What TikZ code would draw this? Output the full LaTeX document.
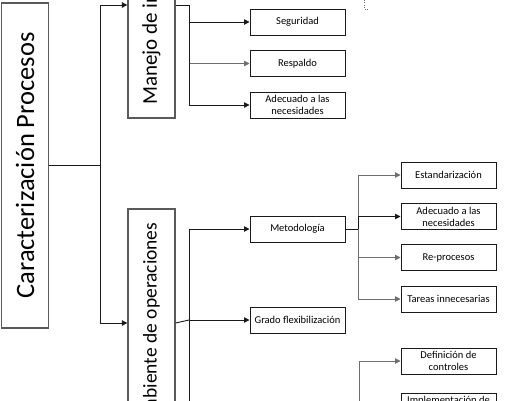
\documentclass[tikz,border=0pt]{standalone}
\usepackage{fontspec}
\setmainfont{Carlito}
\usepackage{tikz}
\usetikzlibrary{arrows.meta,positioning}
\definecolor{edge}{HTML}{1A1A1A}
\definecolor{greyln}{HTML}{6E6E6E}
\definecolor{bigframe}{HTML}{5A5A5A}
\tikzset{
  ar/.style={-{Triangle[length=5.5pt,width=5.5pt]},line width=0.9pt,edge},
  arg/.style={ar,greyln},
  ln/.style={line width=0.9pt,edge},
  bigbox/.style={draw=bigframe,line width=1.3pt,fill=white,rotate=90,inner sep=0pt,minimum height=47pt},
  box/.style={draw=edge,line width=1pt,fill=white,align=center,inner sep=0pt,minimum width=95pt,minimum height=26pt,font=\fontsize{10.5}{12}\selectfont}
}
\begin{document}
\begin{tikzpicture}[x=1pt,y=-1pt]
\useasboundingbox[clip] (0,0) rectangle (524,400);
% top level (rotated boxes: north = left side, south = right side)
\node[bigbox,minimum width=325pt,font=\fontsize{26.5}{30}\selectfont] (proc) at (25,165.5) {Caracterización Procesos};
\node[bigbox,minimum width=226pt,font=\fontsize{21}{24}\selectfont] (manejo) at (151.5,5) {Manejo de información};
\node[bigbox,minimum width=230pt,font=\fontsize{19.5}{22}\selectfont] (ambiente) at (151.5,324) {Ambiente de operaciones};
\draw[ln] (proc.south) -- (100,165.5) coordinate (b1);
\draw[ar] (b1) |- (manejo.north);
\draw[ar] (b1) |- ([yshift=1pt]ambiente.north);
% manejo de informacion
\node[box] (seg) at (297.5,22) {Seguridad};
\node[box] (resp) at (297.5,63.5) {Respaldo};
\node[box] (adecA) at (297.5,105) {Adecuado a las\\necesidades};
\draw[ln] (manejo.south) -- (189,5) coordinate (b2);
\draw[ar] (b2) |- (seg.west);
\draw[arg] (b2) |- (resp.west);
\draw[ar] (b2) |- (adecA.west);
% ambiente de operaciones
\node[box] (metod) at (297.5,229) {Metodología};
\node[box] (grado) at (297.5,320) {Grado flexibilización};
\draw[ln] ([yshift=1pt]ambiente.south) -- (189,320) coordinate (b3);
\coordinate (b3low) at (189,430);
\draw[ar] (b3) |- (metod.west);
\draw[ar] (b3) -- (grado.west);
\draw[ln] (b3) -- (b3low);
% metodologia
\node[box] (estand) at (448.5,175) {Estandarización};
\node[box] (adecB) at (448.5,216.5) {Adecuado a las\\necesidades};
\node[box] (repro) at (448.5,257.5) {Re-procesos};
\node[box] (tareas) at (448.5,299) {Tareas innecesarias};
\draw[ln] (metod.east) -- (358,229) coordinate (b4);
\draw[arg] (b4) |- (estand.west);
\draw[ar] (b4) |- (adecB.west);
\draw[arg] (b4) |- (repro.west);
\draw[arg] (b4) |- (tareas.west);
% lower branch
\node[box] (defin) at (448.5,361) {Definición de\\controles};
\node[box] (implem) at (448.5,406) {Implementación de\\controles};
\coordinate (b5) at (359,430);
\draw[arg] (b5) |- (defin.west);
\draw[arg] (b5) |- (implem.west);
\draw[dotted,greyln] (364,0) -- (364,9) -- (369,9);
\end{tikzpicture}
\end{document}
